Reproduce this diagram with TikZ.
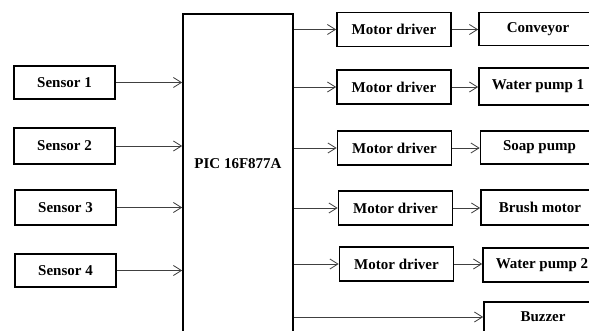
\documentclass[tikz,border=0pt]{standalone}
\usepackage{fontspec}
\setmainfont{Liberation Serif}
\usetikzlibrary{arrows.meta}

\begin{document}
\begin{tikzpicture}[x=1pt,y=-1pt,line join=miter,>={Straight Barb[length=8pt,width=10pt]},
  blk/.style={draw,line width=1.7pt,inner sep=0pt,font=\fontsize{15}{18}\selectfont\bfseries},
  lbl/.style={inner sep=0pt,font=\fontsize{15}{18}\selectfont\bfseries},
  arr/.style={->,draw=black!75,line width=0.8pt}]
  \useasboundingbox (0,0) rectangle (589,331);
  \clip (0,0) rectangle (589,331);
  \node[blk,minimum width=110,minimum height=347,anchor=north] (pic) at (238,13) {};
  \node[lbl] (piclbl) at (238,164) {PIC 16F877A};
  \foreach \i/\x/\y/\h in {1/64.5/82.5/33,2/64.5/146/36,3/65.5/207.5/35,4/65.5/270.5/33} {
    \node[blk,minimum width=101,minimum height=\h] (s\i) at (\x,\y) {Sensor \i};
    \draw[arr] (s\i) -- (s\i -| pic.west);
  }
  \foreach \i/\x/\y/\u/\v/\h/\t in {1/394/29.5/538/29/33/Conveyor,2/394/87/538/86.5/37/Water pump 1,
      3/394.5/148/539.5/147.5/33/Soap pump,4/395.5/208/540/207.5/35/Brush motor,5/396.5/264/542/265/34/Water pump 2} {
    \node[blk,minimum width=114,minimum height=34] (md\i) at (\x,\y) {Motor driver};
    \node[blk,minimum width=118,minimum height=\h] (out\i) at (\u,\v) {\t};
    \draw[arr] (pic.east |- md\i) -- (md\i);
    \draw[arr] (md\i) -- (md\i -| out\i.west);
  }
  \node[blk,minimum width=118,minimum height=30] (buzz) at (543,317) {Buzzer};
  \draw[arr] (pic.east |- buzz) -- (buzz);
\end{tikzpicture}
\end{document}
